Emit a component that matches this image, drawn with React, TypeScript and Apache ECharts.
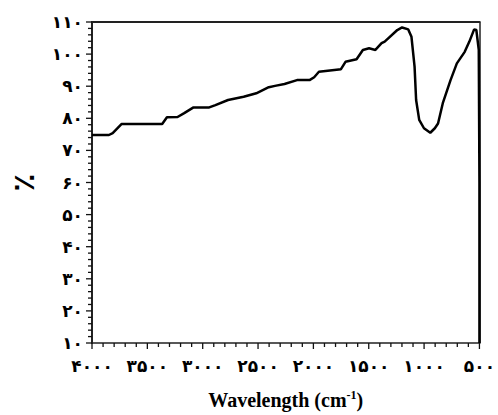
import React, { useEffect, useRef } from "react";
import * as echarts from "echarts";

// Wavenumber (cm-1) and transmittance (%) along the spectrum
const wavenumbers = [
  4000, 3847, 3813, 3734, 3366, 3323, 3227, 3167, 3083, 2941, 2885, 2771, 2630,
  2516, 2403, 2347, 2261, 2148, 2035, 1993, 1950, 1751, 1710, 1610, 1553, 1497,
  1440, 1384, 1356, 1242, 1199, 1143, 1114, 1086, 1072, 1044, 1001, 944, 903,
  874, 831, 761, 704, 633, 591, 548, 528, 506, 500, 500,
];
const transmittance = [
  74.8, 74.8, 75.4, 78.2, 78.2, 80.3, 80.4, 81.6, 83.4, 83.4, 84.1, 85.7, 86.7,
  87.8, 89.7, 90.1, 90.7, 91.9, 91.9, 92.8, 94.5, 95.3, 97.6, 98.4, 101.3, 101.8,
  101.3, 103.4, 103.9, 107.5, 108.3, 107.7, 105.4, 96.1, 85.7, 79.5, 76.9, 75.5,
  76.9, 78.4, 84.7, 91.9, 97.1, 100.7, 103.9, 107.7, 107.5, 101.3, 60, 10,
];

const yTicks = [10, 20, 30, 40, 50, 60, 70, 80, 90, 100, 110];
const xTicks = [500, 1000, 1500, 2000, 2500, 3000, 3500, 4000];
// tick spacing of the minor marks on each axis
const yMinorStep = 2;
const xMinorStep = 100;

const X_MIN = 500;
const X_MAX = 4000;
const Y_MIN = 10;
const Y_MAX = 110;

const persianDigits = "۰۱۲۳۴۵۶۷۸۹";
const toPersian = (n: number) =>
  String(n).replace(/[0-9]/g, (d) => persianDigits[Number(d)]);

// [x, y, axis (0 = left, 1 = bottom), major flag]
function buildTickMarks() {
  const marks: number[][] = [];
  for (let v = Y_MIN; v <= Y_MAX; v += yMinorStep) {
    marks.push([X_MAX, v, 0, yTicks.includes(v) ? 1 : 0]);
  }
  for (let w = X_MIN; w <= X_MAX; w += xMinorStep) {
    marks.push([w, Y_MIN, 1, xTicks.includes(w) ? 1 : 0]);
  }
  return marks;
}

export default function App() {
  const ref = useRef<HTMLDivElement>(null);

  useEffect(() => {
    if (!ref.current) return;
    const chart = echarts.init(ref.current, undefined, { renderer: "svg" });
    const labelFont = {
      color: "#000",
      fontFamily: "DejaVu Sans",
      fontWeight: "bold" as const,
      fontSize: 17,
    };
    chart.setOption({
      animation: false,
      backgroundColor: "#fff",
      grid: {
        left: 82,
        right: 4,
        top: 22,
        bottom: 72,
      },
      xAxis: [
        {
          type: "value",
          min: X_MIN,
          max: X_MAX,
          interval: 500,
          inverse: true,
          name: "{a|Wavelength (cm}{s|-1}{a|)}",
          nameLocation: "middle",
          nameGap: 46,
          nameTextStyle: {
            rich: {
              a: {
                fontFamily: "Liberation Serif",
                fontWeight: "bold",
                fontSize: 20,
                color: "#000",
              },
              s: {
                fontFamily: "Liberation Serif",
                fontWeight: "bold",
                fontSize: 12,
                color: "#000",
                verticalAlign: "top",
                padding: [0, 0, 10, 0],
              },
            },
          },
          axisLine: { show: true, onZero: false, lineStyle: { color: "#222", width: 1.5 } },
          axisTick: { show: false },
          splitLine: { show: false },
          axisLabel: {
            ...labelFont,
            margin: 14,
            formatter: (v: number) => (xTicks.includes(v) ? toPersian(v) : ""),
          },
        },
        {
          // top frame line
          type: "value",
          position: "top",
          min: X_MIN,
          max: X_MAX,
          inverse: true,
          axisLine: { show: true, onZero: false, lineStyle: { color: "#222", width: 2 } },
          axisTick: { show: false },
          axisLabel: { show: false },
          splitLine: { show: false },
        },
      ],
      yAxis: [
        {
          type: "value",
          min: Y_MIN,
          max: Y_MAX,
          interval: 10,
          name: "٪",
          nameLocation: "middle",
          nameGap: 54,
          nameRotate: 90,
          nameTextStyle: {
            color: "#000",
            fontFamily: "DejaVu Sans",
            fontWeight: "bold",
            fontSize: 30,
          },
          axisLine: { show: true, onZero: false, lineStyle: { color: "#222", width: 2 } },
          axisTick: { show: false },
          splitLine: { show: false },
          axisLabel: {
            ...labelFont,
            margin: 9,
            formatter: (v: number) => (yTicks.includes(v) ? toPersian(v) : ""),
          },
        },
        {
          // right frame line
          type: "value",
          position: "right",
          min: Y_MIN,
          max: Y_MAX,
          axisLine: { show: true, onZero: false, lineStyle: { color: "#222", width: 1.5 } },
          axisTick: { show: false },
          axisLabel: { show: false },
          splitLine: { show: false },
        },
      ],
      series: [
        {
          // outward tick marks on the left and bottom axes
          type: "custom",
          xAxisIndex: 0,
          yAxisIndex: 0,
          silent: true,
          clip: false,
          z: 5,
          encode: { x: 0, y: 1 },
          data: buildTickMarks(),
          renderItem: (_params: any, api: any) => {
            const p = api.coord([api.value(0), api.value(1)]);
            const onLeft = api.value(2) === 0;
            const len = api.value(3) === 1 ? 6 : 4;
            return {
              type: "line",
              shape: onLeft
                ? { x1: p[0] - len, y1: p[1], x2: p[0], y2: p[1] }
                : { x1: p[0], y1: p[1], x2: p[0], y2: p[1] + len },
              style: { stroke: "#111", lineWidth: 1.3 },
            };
          },
        },
        {
          type: "line",
          xAxisIndex: 0,
          yAxisIndex: 0,
          data: wavenumbers.map((w, i) => [w, transmittance[i]]),
          showSymbol: false,
          smooth: false,
          lineStyle: { color: "#000", width: 2.5 },
        },
      ],
    });
    return () => chart.dispose();
  }, []);

  return (
    <div
      ref={ref}
      style={{ position: "fixed", left: 0, top: 0, width: 498, height: 415 }}
    />
  );
}
